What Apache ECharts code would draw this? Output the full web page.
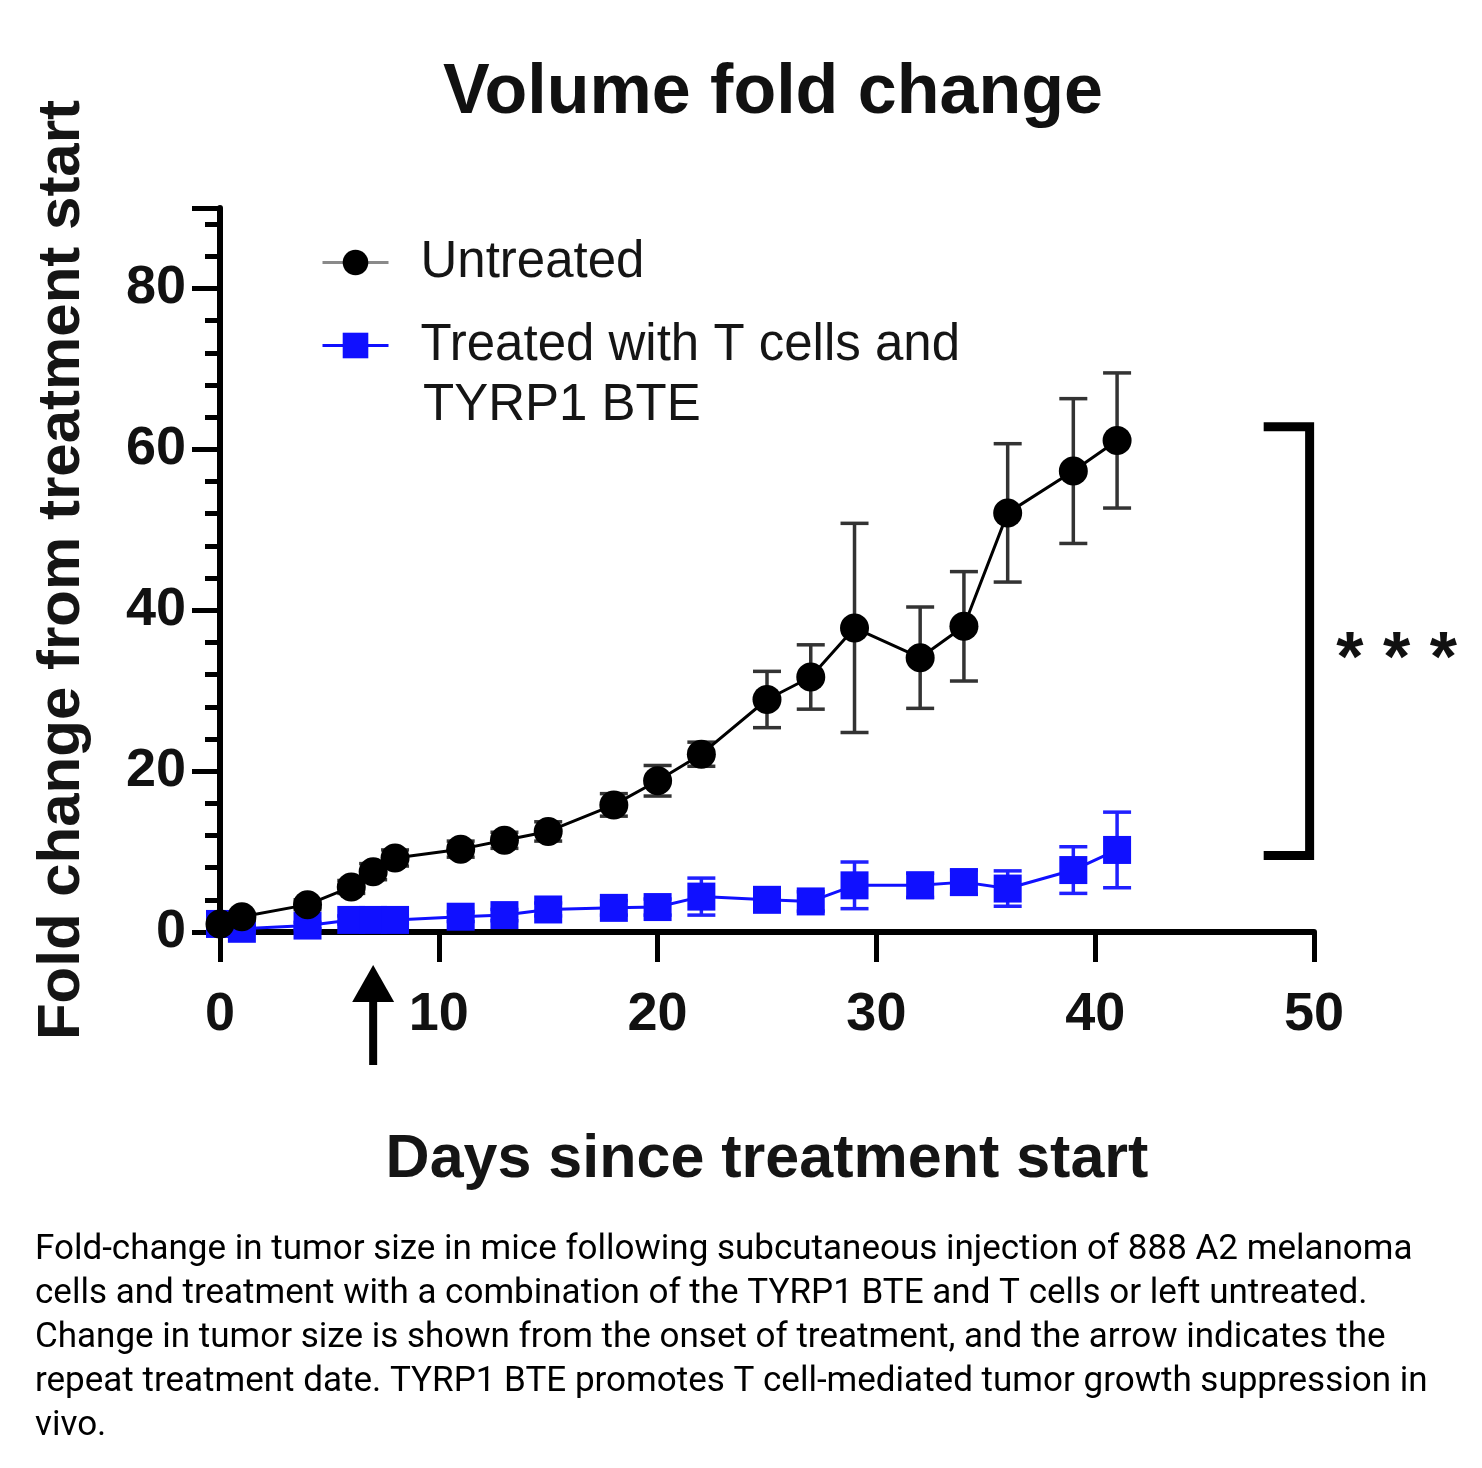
<!DOCTYPE html>
<html>
<head>
<meta charset="utf-8">
<script src="https://cdn.jsdelivr.net/npm/echarts@6/dist/echarts.min.js"></script>
<style>
html, body { margin: 0; padding: 0; background: #fff; }
#chart { width: 1482px; height: 1468px; }
</style>
</head>
<body>
<div id="chart"></div>
<script>
// 数据（从图上读出来的）
var days = [0, 1, 4, 6, 7, 8, 11, 13, 15, 18, 20, 22, 25, 27, 29, 32, 34, 36, 39, 41];
var untreated = [1, 1.9, 3.4, 5.6, 7.5, 9.2, 10.3, 11.4, 12.5, 15.8, 18.8, 22.1, 28.9, 31.7, 37.8, 34.1, 38.0, 52.1, 57.3, 61.1];
var untreatedErr = [0.3, 0.4, 0.6, 0.8, 1.0, 1.0, 1.0, 1.0, 1.2, 1.4, 1.9, 1.5, 3.5, 4.0, 13.0, 6.3, 6.8, 8.6, 9.0, 8.4];
var treated = [1, 0.4, 0.8, 1.5, 1.5, 1.5, 1.9, 2.1, 2.8, 3.0, 3.1, 4.4, 4.0, 3.8, 5.8, 5.8, 6.2, 5.4, 7.7, 10.2];
var treatedErr = [0.2, 0.3, 0.4, 0.5, 0.5, 0.5, 0.6, 0.7, 0.8, 0.9, 1.0, 2.3, 1.2, 1.2, 2.9, 1.5, 1.5, 2.2, 2.9, 4.7];
var xTicks = [0, 10, 20, 30, 40, 50];
var yTicks = [0, 20, 40, 60, 80];
var repeatDay = 7;          // 箭头：重复给药那天
var bracketDay = [47.7, 49.8];
var bracketVal = [62.8, 9.5];

var nameU = 'Untreated';
var nameT = 'Treated with T cells and TYRP1 BTE';

function pairs(xs, ys) {
	var out = [];
	for (var i = 0; i < xs.length; i++) out.push([xs[i], ys[i]]);
	return out;
}
function errData(xs, ys, es) {
	var out = [];
	for (var i = 0; i < xs.length; i++) out.push([xs[i], ys[i] - es[i], ys[i] + es[i]]);
	return out;
}
// 误差线，用custom系列画
function errRender(color) {
	return function (params, api) {
		var x = api.value(0);
		var lo = api.coord([x, api.value(1)]);
		var hi = api.coord([x, api.value(2)]);
		var w = 14;
		var st = { stroke: color, lineWidth: 3.5 };
		return {
			type: 'group',
			children: [
				{ type: 'line', shape: { x1: lo[0], y1: lo[1], x2: hi[0], y2: hi[1] }, style: st },
				{ type: 'line', shape: { x1: lo[0] - w, y1: lo[1], x2: lo[0] + w, y2: lo[1] }, style: st },
				{ type: 'line', shape: { x1: hi[0] - w, y1: hi[1], x2: hi[0] + w, y2: hi[1] }, style: st }
			]
		};
	};
}

var boldFont = 'Liberation Sans';
var myChart = echarts.init(document.getElementById('chart'));

var option = {
	backgroundColor: '#fff',
	animation: false,
	title: {
		text: 'Volume fold change',
		left: 438,
		top: 54,
		textStyle: { fontFamily: boldFont, fontWeight: 'bold', fontSize: 70, color: '#111' }
	},
	legend: {
		orient: 'vertical',
		left: 316,
		top: 232,
		itemWidth: 66,
		itemHeight: 32,
		itemGap: 32,
		data: [
			{ name: nameU, lineStyle: { color: '#8a8a8a', width: 3 } },
			{ name: nameT, lineStyle: { color: '#1010ff', width: 3 } }
		],
		formatter: function (name) {
			if (name === nameT) return '{s|}{t|Treated with T cells and}';
			return '{s|}{t|' + name + '}';
		},
		textStyle: {
			rich: {
				s: { width: 27 },
				t: { fontFamily: boldFont, fontSize: 51, color: '#151515', lineHeight: 56 }
			}
		}
	},
	grid: { left: 220, right: 168, top: 208, bottom: 536 },
	xAxis: {
		type: 'value',
		min: 0,
		max: 50,
		interval: 10,
		name: 'Days since treatment start',
		nameLocation: 'middle',
		nameGap: 198,
		nameTextStyle: { fontFamily: boldFont, fontWeight: 'bold', fontSize: 61, color: '#151515' },
		splitLine: { show: false },
		axisLine: { lineStyle: { color: '#000', width: 6 } },
		axisTick: { inside: false, length: 30, lineStyle: { color: '#000', width: 5 } },
		axisLabel: {
			margin: 56,
			fontFamily: boldFont, fontWeight: 'bold', fontSize: 54, color: '#111',
			customValues: xTicks
		}
	},
	yAxis: {
		type: 'value',
		min: 0,
		max: 90,
		interval: 20,
		name: 'Fold change from treatment start',
		nameLocation: 'middle',
		nameGap: 128,
		nameTextStyle: { fontFamily: boldFont, fontWeight: 'bold', fontSize: 60, color: '#151515' },
		splitLine: { show: false },
		axisLine: { show: true, lineStyle: { color: '#000', width: 6 } },
		axisTick: { length: 28, lineStyle: { color: '#000', width: 5 } },
		minorTick: { show: true, splitNumber: 5, length: 15, lineStyle: { color: '#000', width: 5 } },
		axisLabel: {
			margin: 34,
			fontFamily: boldFont, fontWeight: 'bold', fontSize: 54, color: '#111',
			customValues: yTicks
		}
	},
	series: [
		{
			name: nameT,
			type: 'line',
			data: pairs(days, treated),
			symbol: 'rect',
			symbolSize: 28,
			itemStyle: { color: '#1010ff' },
			lineStyle: { color: '#1010ff', width: 3 },
			z: 3
		},
		{
			name: nameT,
			type: 'custom',
			data: errData(days, treated, treatedErr),
			encode: { x: 0, y: [1, 2] },
			renderItem: errRender('#2020ff'),
			z: 2
		},
		{
			name: nameU,
			type: 'line',
			data: pairs(days, untreated),
			symbol: 'circle',
			symbolSize: 29,
			itemStyle: { color: '#000' },
			lineStyle: { color: '#000', width: 3 },
			z: 5
		},
		{
			name: nameU,
			type: 'custom',
			data: errData(days, untreated, untreatedErr),
			encode: { x: 0, y: [1, 2] },
			renderItem: errRender('#333'),
			z: 4
		}
	]
};
myChart.setOption(option);

// 箭头、括号、星号、图注，位置用坐标轴换算
var a0 = myChart.convertToPixel({ xAxisIndex: 0, yAxisIndex: 0 }, [repeatDay, 0]);
var bTop = myChart.convertToPixel({ xAxisIndex: 0, yAxisIndex: 0 }, [bracketDay[1], bracketVal[0]]);
var bBot = myChart.convertToPixel({ xAxisIndex: 0, yAxisIndex: 0 }, [bracketDay[1], bracketVal[1]]);
var bLeft = myChart.convertToPixel({ xAxisIndex: 0, yAxisIndex: 0 }, [bracketDay[0], bracketVal[0]]);

var caption = 'Fold-change in tumor size in mice following subcutaneous injection of 888 A2 melanoma\n' +
	'cells and treatment with a combination of the TYRP1 BTE and T cells or left untreated.\n' +
	'Change in tumor size is shown from the onset of treatment, and the arrow indicates the\n' +
	'repeat treatment date. TYRP1 BTE promotes T cell-mediated tumor growth suppression in\n' +
	'vivo.';

myChart.setOption({
	graphic: [
		{
			type: 'text', left: 423, top: 380,
			style: { text: 'TYRP1 BTE', fontFamily: boldFont, fontSize: 51, fill: '#151515' }
		},
		{
			type: 'polygon',
			shape: { points: [[a0[0], a0[1] + 33], [a0[0] - 21, a0[1] + 70], [a0[0] + 21, a0[1] + 70]] },
			style: { fill: '#000' }
		},
		{
			type: 'rect',
			shape: { x: a0[0] - 4, y: a0[1] + 66, width: 8, height: 67 },
			style: { fill: '#000' }
		},
		{
			type: 'polyline',
			shape: { points: [[bLeft[0], bTop[1]], [bTop[0], bTop[1]], [bBot[0], bBot[1]], [bLeft[0], bBot[1]]] },
			style: { stroke: '#000', lineWidth: 9, fill: null, lineJoin: 'miter' }
		},
		{
			type: 'text', x: bTop[0] + 87, y: (bTop[1] + bBot[1]) / 2 + 21,
			style: {
				text: '* * *', fontFamily: boldFont, fontWeight: 'bold', fontSize: 70,
				fill: '#111', align: 'center', verticalAlign: 'middle'
			}
		},
		{
			type: 'text', left: 35, top: 1228,
			style: { text: caption, fontFamily: 'Roboto', fontSize: 35, lineHeight: 44, fill: '#000' }
		}
	]
});
</script>
</body>
</html>
